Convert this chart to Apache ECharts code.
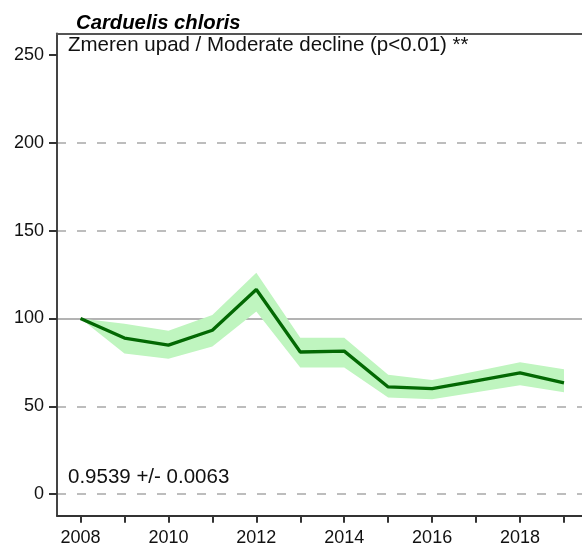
<!DOCTYPE html>
<html>
<head>
<meta charset="utf-8">
<script src="https://cdn.jsdelivr.net/npm/echarts@6/dist/echarts.min.js"></script>
<style>
html,body{margin:0;padding:0;background:#fff;}
#chart{width:582px;height:549px;}
</style>
</head>
<body>
<div id="chart"></div>
<script>
var years = [2008,2009,2010,2011,2012,2013,2014,2015,2016,2017,2018,2019];
var index = [100,88.8,84.8,93.3,116.5,80.9,81.4,61,60,64.5,69,63.3];
var lower = [100,80,77,84,104,72,72,55,54,58,62,58];
var upper = [100,97,93,102,126,89,89,68,65,70,75,71];
var yTicks = [0,50,100,150,200,250];
var xLabels = [2008,2010,2012,2014,2016,2018];
var dashedGrid = [0,50,150,200];
var baseLine = 100;
var titleText = 'Carduelis chloris';
var trendText = 'Zmeren upad / Moderate decline (p<0.01) **';
var slopeText = '0.9539 +/- 0.0063';

var FONT = '"Liberation Sans", Arial, sans-serif';
var chart = echarts.init(document.getElementById('chart'), null, {renderer:'canvas'});

function pairs(vals){ return years.map(function(y,i){ return [y, vals[i]]; }); }
var bandData = years.map(function(y,i){ return [y, lower[i], upper[i]]; });

var gridMarks = dashedGrid.map(function(v){
  return {yAxis: v, lineStyle:{type:[9,11], color:'#a8a8a8', width:1.6}};
});
gridMarks.push({yAxis: baseLine, lineStyle:{type:'solid', color:'#9a9a9a', width:1.6}});

function renderBand(params, api){
  if (params.dataIndex !== 0) return null;
  var top = [], bot = [];
  for (var i = 0; i < bandData.length; i++) {
    top.push(api.coord([bandData[i][0], bandData[i][2]]));
    bot.push(api.coord([bandData[i][0], bandData[i][1]]));
  }
  var pts = top.concat(bot.reverse());
  return {
    type:'polygon',
    shape:{points:pts},
    style:{fill:'#bff5bf', stroke:null}
  };
}

var option = {
  backgroundColor:'#fff',
  animation:false,
  textStyle:{fontFamily:FONT},
  title:{
    text:titleText, left:71, top:8,
    textStyle:{fontFamily:FONT, fontSize:20.3, fontWeight:'bold', fontStyle:'italic', color:'#000'}
  },
  grid:{left:57, right:0, top:33.5, bottom:33.3, containLabel:false},
  xAxis:[{
    type:'value', min:2007.465, max:2019.41,
    axisLine:{show:true, onZero:false, lineStyle:{color:'#333', width:2}},
    axisTick:{show:true, length:7, customValues:years, lineStyle:{color:'#333', width:2}},
    axisLabel:{customValues:xLabels, fontSize:18, color:'#111', margin:13, fontFamily:FONT,
      formatter:function(v){ return String(v); }},
    splitLine:{show:false}
  },{
    type:'value', position:'top', min:2007.465, max:2019.41,
    axisLine:{show:true, onZero:false, lineStyle:{color:'#555', width:2}},
    axisTick:{show:false}, axisLabel:{show:false}, splitLine:{show:false}
  }],
  yAxis:{
    type:'value', min:-12.3, max:262.2,
    axisLine:{show:true, onZero:false, lineStyle:{color:'#444', width:2}},
    axisTick:{show:true, length:8, customValues:yTicks, lineStyle:{color:'#333', width:2}},
    axisLabel:{customValues:yTicks, fontSize:18, color:'#111', margin:13, fontFamily:FONT,
      formatter:function(v){ return String(v); }},
    splitLine:{show:false}
  },
  graphic:[
    {type:'text', left:68, top:35, style:{text:trendText, font:'20.5px "Liberation Sans", Arial, sans-serif', fill:'#111'}},
    {type:'text', left:68, top:467, style:{text:slopeText, font:'20.5px "Liberation Sans", Arial, sans-serif', fill:'#111'}}
  ],
  series:[
    {
      type:'custom', data:bandData, renderItem:renderBand, silent:true, z:1,
      encode:{x:0, y:[1,2]}
    },
    {
      type:'line', data:pairs(index), symbol:'none',
      lineStyle:{color:'#036803', width:3.3}, z:5,
      markLine:{symbol:'none', silent:true, label:{show:false}, data:gridMarks, z:0}
    }
  ]
};
chart.setOption(option);
</script>
</body>
</html>
